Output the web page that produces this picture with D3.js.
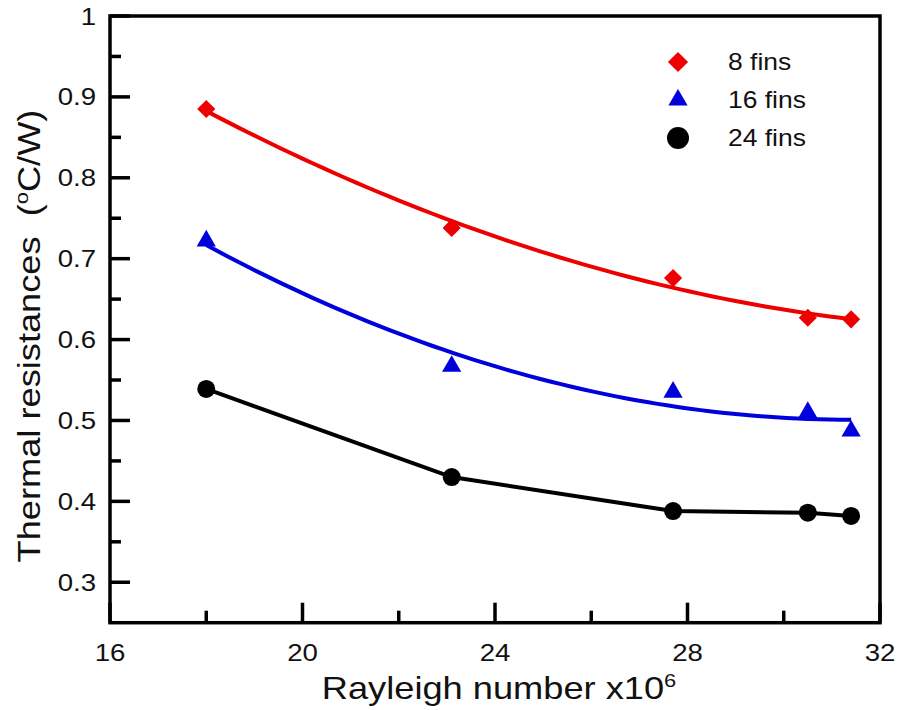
<!DOCTYPE html>
<html>
<head>
<meta charset="utf-8">
<script src="https://cdn.jsdelivr.net/npm/d3@7"></script>
<style>
body { margin: 0; background: #fff; }
text { font-family: "Liberation Sans", Arial, sans-serif; fill: #111; }
</style>
</head>
<body>
<svg id="svg"></svg>
<script>
// abscisses : nombre de Rayleigh (x10^6)
const rayleigh = [18.0, 23.1, 27.7, 30.5, 31.4];

// resistances thermiques (°C/W)
const fins8 = [0.885, 0.738, 0.676, 0.627, 0.625];
const fins16 = [0.722, 0.567, 0.535, 0.510, 0.487];
const fins24 = [0.539, 0.430, 0.388, 0.386, 0.382];

const legendLabels = ["8 fins", "16 fins", "24 fins"];

const xTicks = [16, 20, 24, 28, 32];
const xMinor = [18, 22, 26, 30];
const yTicks = [0.3, 0.4, 0.5, 0.6, 0.7, 0.8, 0.9, 1];
const yMinor = [0.35, 0.45, 0.55, 0.65, 0.75, 0.85, 0.95];

const W = 899, H = 710;
// police un peu plus large que Arial dans l'image
const SX = 1.15;

const canevas = d3.select("#svg").attr("width", W).attr("height", H);

const x = d3.scaleLinear().domain([16, 32]).range([110, 880]);
const y = d3.scaleLinear().domain([0.25, 1]).range([622.7, 16]);

// regression polynomiale degre 2 (moindres carres)
function polyfit2(xs, ys) {
	let S = [[0, 0, 0], [0, 0, 0], [0, 0, 0]], b = [0, 0, 0];
	for (let i = 0; i < xs.length; i++) {
		const p = [1, xs[i], xs[i] * xs[i]];
		for (let r = 0; r < 3; r++) {
			b[r] += p[r] * ys[i];
			for (let c = 0; c < 3; c++) S[r][c] += p[r] * p[c];
		}
	}
	// gauss
	for (let k = 0; k < 3; k++) {
		for (let r = k + 1; r < 3; r++) {
			const f = S[r][k] / S[k][k];
			for (let c = k; c < 3; c++) S[r][c] -= f * S[k][c];
			b[r] -= f * b[k];
		}
	}
	const a = [0, 0, 0];
	for (let r = 2; r >= 0; r--) {
		let s = b[r];
		for (let c = r + 1; c < 3; c++) s -= S[r][c] * a[c];
		a[r] = s / S[r][r];
	}
	return t => a[0] + a[1] * t + a[2] * t * t;
}

function fitPoints(ys) {
	const f = polyfit2(rayleigh, ys);
	const x0 = rayleigh[0], x1 = rayleigh[rayleigh.length - 1];
	return d3.range(0, 61).map(k => {
		const t = x0 + (x1 - x0) * k / 60;
		return [t, f(t)];
	});
}

const line = d3.line().x(d => x(d[0])).y(d => y(d[1]));

// courbes
canevas.append("path").datum(fitPoints(fins8))
	.attr("d", line).attr("fill", "none").attr("stroke", "#ee0000").attr("stroke-width", 4);
canevas.append("path").datum(fitPoints(fins16))
	.attr("d", line).attr("fill", "none").attr("stroke", "#0000dd").attr("stroke-width", 4);
canevas.append("path").datum(rayleigh.map((r, i) => [r, fins24[i]]))
	.attr("d", line).attr("fill", "none").attr("stroke", "#000").attr("stroke-width", 4);

// marqueurs
const diamond = d3.symbol().type(d3.symbolDiamond2).size(210);
const triangle = d3.symbol().type(d3.symbolTriangle).size(160);

canevas.selectAll(".m8").data(rayleigh).enter().append("path")
	.attr("d", diamond)
	.attr("transform", (d, i) => "translate(" + x(d) + "," + y(fins8[i]) + ")")
	.attr("fill", "#ee0000");
canevas.selectAll(".m16").data(rayleigh).enter().append("path")
	.attr("d", triangle)
	.attr("transform", (d, i) => "translate(" + x(d) + "," + y(fins16[i]) + ")")
	.attr("fill", "#0000dd");
canevas.selectAll(".m24").data(rayleigh).enter().append("circle")
	.attr("cx", d => x(d))
	.attr("cy", (d, i) => y(fins24[i]))
	.attr("r", 9)
	.attr("fill", "#000");

// cadre
canevas.append("rect")
	.attr("x", x(16)).attr("y", y(1))
	.attr("width", x(32) - x(16)).attr("height", y(0.25) - y(1))
	.attr("fill", "none").attr("stroke", "#000").attr("stroke-width", 3.5);

// graduations
function draw_line(x1, y1, x2, y2) {
	canevas.append("line")
		.attr("x1", x1).attr("y1", y1).attr("x2", x2).attr("y2", y2)
		.attr("stroke", "#000").attr("stroke-width", 3.5);
}

xTicks.forEach(t => draw_line(x(t), y(0.25), x(t), y(0.25) - 20));
xMinor.forEach(t => draw_line(x(t), y(0.25), x(t), y(0.25) - 12));
yTicks.forEach(t => draw_line(x(16), y(t), x(16) + 20, y(t)));
yMinor.forEach(t => draw_line(x(16), y(t), x(16) + 11, y(t)));

// texte etire horizontalement
function draw_text(tx, ty, anchor, size, rot) {
	return canevas.append("text")
		.attr("transform", "translate(" + tx + "," + ty + ")" + (rot ? " rotate(" + rot + ")" : "") + " scale(" + SX + ",1)")
		.attr("text-anchor", anchor)
		.style("font-size", size);
}

xTicks.forEach(t => draw_text(x(t), 661, "middle", "24px").text(t));
yTicks.forEach(t => draw_text(96, y(t) + 8.5, "end", "24px").text(d3.format("~g")(t)));

// titres des axes
const xt = draw_text(499, 699, "middle", "31.5px");
xt.append("tspan").text("Rayleigh number x10");
xt.append("tspan").attr("dy", -12).style("font-size", "19px").text("6");

const yt = draw_text(40, 336, "middle", "31.5px", -90);
yt.append("tspan").text("Thermal resistances\u00a0\u00a0(");
yt.append("tspan").attr("dy", -12).style("font-size", "19px").text("o");
yt.append("tspan").attr("dy", 12).text("C/W)");

// legende
const legY = [62, 100, 138];
canevas.append("path").attr("d", d3.symbol().type(d3.symbolDiamond2).size(260))
	.attr("transform", "translate(678," + legY[0] + ")").attr("fill", "#ee0000");
canevas.append("path").attr("d", d3.symbol().type(d3.symbolTriangle).size(160))
	.attr("transform", "translate(678," + legY[1] + ")").attr("fill", "#0000dd");
canevas.append("circle").attr("cx", 678).attr("cy", legY[2]).attr("r", 11).attr("fill", "#000");

legendLabels.forEach((l, i) => draw_text(728, legY[i] + 8, "start", "23px").text(l));
</script>
</body>
</html>
